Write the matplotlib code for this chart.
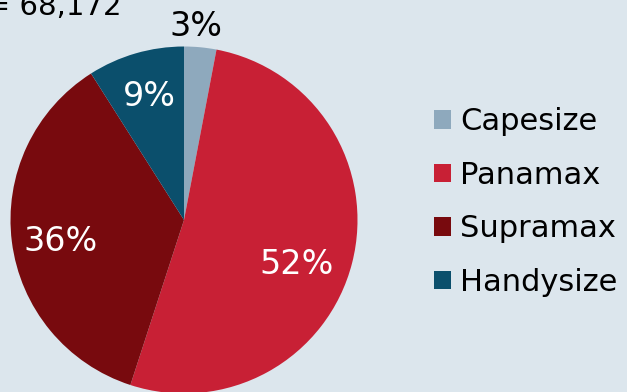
import matplotlib.pyplot as plt
import matplotlib

matplotlib.rcParams['font.family'] = 'DejaVu Sans'

# ── 数据 ──────────────────────────────────────────
categories = ['Capesize', 'Panamax', 'Supramax', 'Handysize']
shares = [3, 52, 36, 9]
colors = ['#8EA9BD', '#C82035', '#780A0E', '#0B4F6C']
label_colors = ['black', 'white', 'white', 'white']
total_n = 68172

bg = '#DCE6ED'
W, H = 627, 392
fig = plt.figure(figsize=(W / 100, H / 100), dpi=100)
fig.patch.set_facecolor(bg)

# 饼图区域（像素 -> 图坐标）
cx, cy, r = 184, 172, 173.5
ax = fig.add_axes([(cx - r) / W, (cy - r) / H, 2 * r / W, 2 * r / H])
ax.set_facecolor(bg)

wedges, texts, autotexts = ax.pie(
    shares,
    colors=colors,
    startangle=90,
    counterclock=False,
    autopct='%1.0f%%',
    pctdistance=0.72,
    radius=1,
    wedgeprops={'linewidth': 0},
    textprops={'fontsize': 24},
)
for t, c in zip(autotexts, label_colors):
    t.set_color(c)
# 标签微调（轴坐标偏移）
nudges = [(0, -0.01), (-0.05, -0.075), (0, -0.035), (0, 0.02)]
for i, (t, (dx, dy)) in enumerate(zip(autotexts, nudges)):
    x0, y0 = t.get_position()
    if i == 0:  # 3% 放在饼外
        x0, y0 = x0 / 0.72 * 1.13 - 0.04, y0 / 0.72 * 1.13
    t.set_position((x0 + dx, y0 + dy))

ax.set_xlim(-1, 1)
ax.set_ylim(-1, 1)
ax.set_aspect('equal')
ax.axis('off')

fig.text(122 / W, 1 - 15 / H, f'n = {total_n:,}', ha='right', va='baseline',
         fontsize=21, color='black')

leg = fig.legend(wedges, categories, loc='center left',
                 bbox_to_anchor=(422 / W, 1 - 202 / H),
                 frameon=False, fontsize=22,
                 handlelength=0.55, handleheight=0.55,
                 handletextpad=0.3, labelspacing=0.8, borderaxespad=0)

fig.savefig('out.png', dpi=100, facecolor=bg)
